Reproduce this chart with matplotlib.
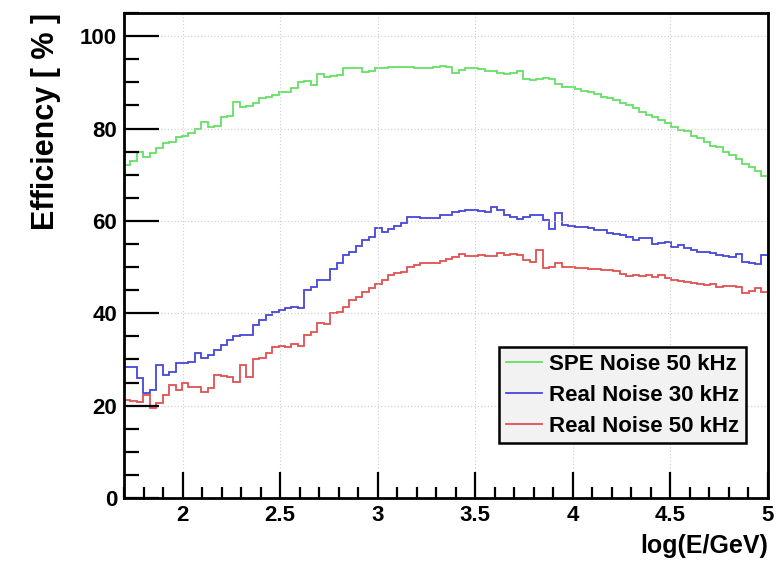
import numpy as np
import matplotlib
matplotlib.use("Agg")
import matplotlib.pyplot as plt
from matplotlib.lines import Line2D
from matplotlib.ticker import MultipleLocator

plt.rcParams['font.family'] = ['Liberation Sans', 'DejaVu Sans']
plt.rcParams['font.weight'] = 'bold'

# histogram binning: 100 bins over log(E/GeV) 1.7 - 5
edges = np.linspace(1.7, 5.0, 101)

# efficiencies [%], one per bin
spe_50 = [72.0, 73.0, 75.0, 73.9, 74.6, 75.7, 76.8, 77.0, 78.2, 78.4,
          79.0, 80.0, 81.5, 80.4, 80.6, 82.5, 82.6, 85.8, 84.6, 84.8,
          85.5, 86.6, 86.8, 87.3, 88.0, 87.8, 88.7, 90.1, 90.2, 89.4,
          91.9, 91.2, 91.3, 91.6, 93.0, 93.0, 93.0, 92.2, 92.5, 93.1,
          93.2, 93.4, 93.3, 93.4, 93.3, 93.2, 93.2, 93.1, 93.3, 93.6,
          93.4, 92.0, 92.6, 93.0, 93.0, 92.9, 92.4, 92.4, 92.1, 91.8,
          92.1, 92.4, 90.8, 90.6, 90.7, 91.0, 90.8, 89.7, 89.0, 88.9,
          88.6, 88.2, 87.8, 87.4, 86.9, 86.6, 86.2, 85.6, 85.0, 84.5,
          83.6, 82.9, 82.5, 81.8, 81.2, 80.4, 79.7, 79.5, 78.3, 77.9,
          77.1, 76.3, 75.9, 75.0, 74.3, 73.4, 72.4, 71.7, 70.9, 69.8]

real_30 = [28.4, 28.4, 26.0, 22.8, 23.5, 28.8, 26.6, 27.3, 29.2, 29.2,
           29.4, 31.5, 30.4, 31.0, 32.0, 33.1, 34.2, 35.0, 35.2, 35.3,
           37.4, 38.6, 39.6, 40.3, 40.8, 41.2, 41.4, 41.1, 45.0, 45.7,
           47.2, 47.1, 49.6, 50.8, 52.6, 53.3, 54.5, 55.8, 56.5, 58.4,
           57.6, 58.2, 59.0, 59.6, 60.9, 60.8, 60.6, 60.6, 60.7, 61.3,
           61.2, 62.0, 62.1, 62.3, 62.3, 62.1, 61.9, 63.0, 62.3, 61.3,
           60.9, 60.5, 60.8, 61.3, 61.2, 60.2, 58.3, 61.7, 59.1, 58.8,
           58.7, 58.6, 58.4, 58.1, 58.0, 57.4, 57.2, 56.9, 56.6, 55.8,
           56.2, 56.2, 55.1, 55.3, 55.4, 54.4, 54.7, 54.2, 53.7, 53.3,
           53.2, 53.0, 52.6, 52.5, 52.2, 52.8, 51.2, 50.8, 50.7, 52.6]

real_50 = [21.2, 21.0, 20.8, 22.3, 19.4, 20.5, 22.3, 24.5, 23.4, 24.9,
           24.1, 24.0, 23.0, 23.8, 26.6, 26.4, 26.3, 25.2, 28.8, 26.3,
           30.0, 30.4, 31.4, 32.7, 32.9, 32.7, 33.3, 33.0, 35.3, 36.0,
           37.9, 37.6, 40.0, 40.3, 41.4, 42.9, 43.5, 44.7, 45.5, 46.3,
           47.2, 48.3, 48.8, 49.0, 50.0, 50.5, 50.8, 50.8, 50.9, 51.4,
           51.7, 52.2, 52.8, 52.5, 52.4, 52.6, 52.5, 52.3, 53.0, 52.6,
           52.8, 52.6, 51.5, 51.2, 53.7, 49.9, 50.1, 50.8, 50.1, 50.0,
           49.9, 49.8, 49.6, 49.5, 49.4, 49.4, 49.2, 48.6, 48.1, 48.3,
           48.0, 48.3, 47.9, 48.2, 47.6, 47.2, 46.9, 46.8, 46.6, 46.4,
           46.1, 46.3, 45.8, 45.9, 46.0, 45.6, 44.3, 44.9, 45.4, 44.7]

labels = ["SPE Noise 50 kHz", "Real Noise 30 kHz", "Real Noise 50 kHz"]
colors = ["#66df66", "#4646d8", "#e25050"]

fig = plt.figure(figsize=(7.82, 5.66), dpi=100)
ax = fig.add_axes([0.1586, 0.12, 0.8234, 0.857])

for vals, col in zip([spe_50, real_30, real_50], colors):
    ax.stairs(vals, edges, baseline=0, color=col, linewidth=1.3)

ax.set_xlim(1.7, 5.0)
ax.set_ylim(0, 105)

ax.xaxis.set_minor_locator(MultipleLocator(0.1))
ax.yaxis.set_minor_locator(MultipleLocator(5))

ax.tick_params(which='both', direction='in', top=False, right=False,
               width=1.6, color='black')
ax.tick_params(axis='x', which='major', length=19, labelsize=16, pad=5)
ax.tick_params(axis='x', which='minor', length=8)
ax.tick_params(axis='y', which='major', length=25, labelsize=16, pad=5)
ax.tick_params(axis='y', which='minor', length=11)

ax.set_xticks([2, 2.5, 3, 3.5, 4, 4.5, 5])
ax.set_xticklabels(["2", "2.5", "3", "3.5", "4", "4.5", "5"], fontweight='bold')
ax.set_yticks([0, 20, 40, 60, 80, 100])
ax.set_yticklabels(["0", "20", "40", "60", "80", "100"], fontweight='bold')

ax.grid(True, which='major', color='#cccccc', linestyle=(0, (1, 2)), linewidth=0.8)

for sp in ax.spines.values():
    sp.set_linewidth(2)
    sp.set_color('black')

ax.set_xlabel("log(E/GeV)", fontsize=18, fontweight='bold', loc='right', labelpad=6)
ax.set_ylabel("Efficiency [ % ]", fontsize=22, fontweight='bold', loc='top', labelpad=14)

handles = [Line2D([0], [0], color=c, linewidth=1.3) for c in colors]
leg = ax.legend(handles, labels, loc='lower right', bbox_to_anchor=(0.966, 0.113),
                prop={'weight': 'bold', 'size': 16},
                frameon=True, fancybox=False, edgecolor='black',
                facecolor='#f2f2f2', framealpha=1, handlelength=1.6,
                handletextpad=0.35, borderpad=0.3, labelspacing=0.45,
                borderaxespad=0)
leg.get_frame().set_linewidth(1.8)

fig.savefig("out.png", dpi=100)
